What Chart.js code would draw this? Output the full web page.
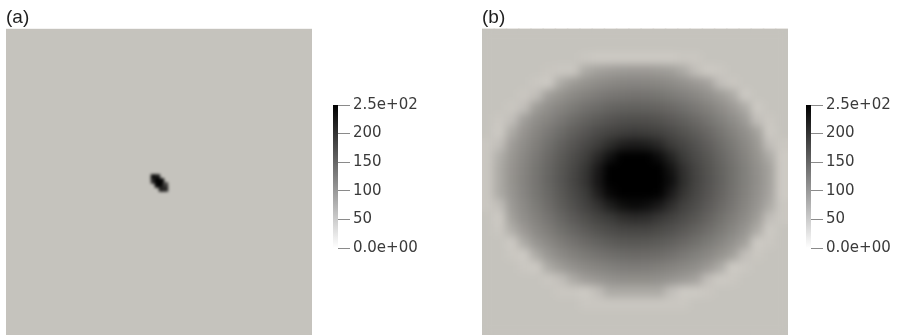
<!DOCTYPE html>
<html>
<head>
<meta charset="utf-8">
<script src="https://cdn.jsdelivr.net/npm/chart.js@4.4.1/dist/chart.umd.min.js"></script>
<style>
  html, body { margin: 0; padding: 0; background: #ffffff; }
  body { width: 905px; height: 335px; position: relative; overflow: hidden; }
  .box { position: absolute; }
</style>
</head>
<body>
<div class="box" style="left:0px;top:0px;width:312px;height:335px;"><canvas id="heatA"></canvas></div>
<div class="box" style="left:333px;top:93px;width:95px;height:167px;"><canvas id="cbarA"></canvas></div>
<div class="box" style="left:476px;top:0px;width:312px;height:335px;"><canvas id="heatB"></canvas></div>
<div class="box" style="left:806px;top:93px;width:95px;height:167px;"><canvas id="cbarB"></canvas></div>
<script>
// ---------------- data ----------------
const panelTitles = ['(a)', '(b)'];

// colour bar range and its tick labels
const colorbarMin = 0;
const colorbarMax = 250;
const colorbarTickValues = [0, 50, 100, 150, 200, 250];
const colorbarTickLabels = ['0.0e+00', '50', '100', '150', '200', '2.5e+02'];

// panel (a): uniform field with one small dark spot (coordinates in % of the panel)
const fieldALevel = 15;
const spotAX = [48.2, 49.5, 48.2, 49.5, 50.8, 49.5, 50.8, 52.1, 50.8, 52.1];
const spotAY = [48.4, 48.4, 49.7, 49.7, 49.7, 51.0, 51.0, 51.0, 52.3, 52.3];
const spotAV = [240, 220, 200, 255, 240, 240, 255, 170, 210, 200];
const spotACell = 1.31;

// panel (b): field sampled on a 25 x 25 grid, rows from top to bottom
const fieldBLevel = 15;
const fieldB = [
  [15,15,15,15,15,15,15,15,15,15,15,15,15,15,15,15,15,15,15,15,15,15,15,15,15],
  [15,15,15,15,15,15,15,15,15,15,15,15,15,15,15,15,15,15,15,15,15,15,15,15,15],
  [15,15,15,15,15,15,15,15,10,6,6,6,6,6,6,6,10,10,15,15,15,15,15,15,15],
  [15,15,15,15,15,12,10,10,45,56,61,65,66,66,63,58,45,20,6,10,15,15,15,15,15],
  [15,15,15,15,10,6,45,63,73,81,86,89,90,89,87,82,75,66,55,20,10,15,15,15,15],
  [15,15,15,10,20,59,73,84,93,101,107,110,112,111,108,102,95,87,76,63,45,6,15,15,15],
  [15,15,10,20,62,78,91,102,113,121,128,132,133,132,129,123,115,105,94,81,66,45,6,15,15],
  [15,10,20,59,78,92,106,119,131,140,148,153,155,154,150,142,133,122,110,96,81,64,20,10,15],
  [15,6,45,72,89,105,120,134,147,159,168,174,177,175,170,161,150,138,124,109,93,77,57,6,15],
  [10,20,61,81,98,115,132,147,162,176,195,211,217,213,200,179,165,151,136,119,103,86,67,20,10],
  [10,40,68,87,105,123,140,157,174,200,228,250,255,253,234,207,178,161,145,127,110,92,73,45,6],
  [10,45,72,91,109,127,145,163,184,218,251,255,255,255,255,226,192,168,150,132,114,96,77,56,6],
  [10,45,73,92,110,128,146,165,187,222,255,255,255,255,255,233,195,169,151,133,114,96,78,56,6],
  [10,45,70,90,108,125,143,161,178,211,241,255,255,255,249,218,186,165,148,130,112,94,76,54,6],
  [10,20,65,85,102,119,137,153,169,188,213,231,238,233,218,194,172,157,141,124,107,89,71,45,10],
  [15,6,57,78,94,110,126,141,155,168,178,191,197,194,182,170,158,145,130,114,98,82,62,20,10],
  [15,10,40,66,84,99,114,127,139,150,158,164,166,165,160,152,142,130,117,103,88,71,45,6,15],
  [15,15,6,45,70,85,99,111,122,131,138,143,144,143,139,133,124,114,102,89,74,57,6,10,15],
  [15,15,10,6,45,69,83,94,103,111,117,121,123,122,119,113,105,96,86,73,58,20,10,15,15],
  [15,15,15,10,6,45,63,75,84,91,96,100,101,100,97,92,86,78,66,45,6,10,15,15,15],
  [15,15,15,15,15,10,20,45,61,69,75,78,79,79,76,71,64,55,20,6,10,15,15,15,15],
  [15,15,15,15,15,15,10,10,6,20,45,45,45,45,45,20,6,6,10,15,15,15,15,15,15],
  [15,15,15,15,15,15,15,15,10,10,10,10,10,10,10,10,10,15,15,15,15,15,15,15,15],
  [15,15,15,15,15,15,15,15,15,15,15,15,15,15,15,15,15,15,15,15,15,15,15,15,15],
  [15,15,15,15,15,15,15,15,15,15,15,15,15,15,15,15,15,15,15,15,15,15,15,15,15]
];

// ---------------- styling helpers ----------------
const SHADE = [210, 207, 201];          // lit surface colour at value 0
function surfaceColor(v) {
  const t = Math.max(0, Math.min(1, 1 - v / colorbarMax));
  return 'rgb(' + SHADE.map(c => Math.round(c * t)).join(',') + ')';
}

const areaFill = {
  id: 'areaFill',
  beforeDatasetsDraw(chart, args, opts) {
    if (opts.level === undefined) return;
    const a = chart.chartArea, ctx = chart.ctx;
    ctx.save();
    ctx.fillStyle = surfaceColor(opts.level);
    ctx.fillRect(a.left, a.top, a.right - a.left, a.bottom - a.top);
    ctx.restore();
  }
};

const smooth = {
  id: 'smooth',
  afterDatasetsDraw(chart, args, opts) {
    const r = opts.radius;
    if (!r) return;
    const a = chart.chartArea;
    const w = Math.round(a.right - a.left), h = Math.round(a.bottom - a.top);
    const l = Math.round(a.left), t = Math.round(a.top);
    const off = document.createElement('canvas');
    off.width = w; off.height = h;
    off.getContext('2d').drawImage(chart.canvas, l, t, w, h, 0, 0, w, h);
    const ctx = chart.ctx;
    ctx.save();
    ctx.beginPath();
    ctx.rect(l, t, w, h);
    ctx.clip();
    ctx.filter = 'blur(' + r + 'px)';
    ctx.drawImage(off, l, t);
    ctx.restore();
  }
};

function heatChart(id, title, cells, cellUnits, blur, level) {
  return new Chart(document.getElementById(id), {
    type: 'scatter',
    data: {
      datasets: [{
        data: cells,
        pointStyle: 'rect',
        borderWidth: 0,
        pointBorderWidth: 0,
        backgroundColor: ctx => surfaceColor(ctx.raw ? ctx.raw.v : 0),
        pointBackgroundColor: ctx => surfaceColor(ctx.raw ? ctx.raw.v : 0),
        pointRadius: ctx => {
          const s = ctx.chart.scales.x;
          const side = Math.abs(s.getPixelForValue(cellUnits) - s.getPixelForValue(0)) + 1.5;
          return side / Math.SQRT2;
        },
        pointHoverRadius: 0
      }]
    },
    options: {
      responsive: true,
      maintainAspectRatio: false,
      animation: false,
      events: [],
      layout: { padding: { left: 6, right: 0, top: 0, bottom: 0 } },
      scales: {
        x: { type: 'linear', min: 0, max: 100, display: false },
        y: { type: 'linear', min: 0, max: 100, reverse: true, display: false }
      },
      plugins: {
        legend: { display: false },
        tooltip: { enabled: false },
        title: {
          display: true, text: title, align: 'start', color: '#1e1e1e',
          font: { family: 'Liberation Sans, Arial, sans-serif', size: 19, weight: 'normal' },
          padding: { top: 6, bottom: 0 }
        },
        areaFill: { level: level },
        smooth: { radius: blur }
      }
    },
    plugins: [areaFill, smooth]
  });
}

function colorbarChart(id) {
  return new Chart(document.getElementById(id), {
    type: 'bar',
    data: {
      labels: ['scale'],
      datasets: [{
        data: [[colorbarMin, colorbarMax]],
        barPercentage: 1,
        categoryPercentage: 1,
        borderWidth: 0,
        backgroundColor: ctx => {
          const c = ctx.chart, a = c.chartArea;
          if (!a) return '#888';
          const y = c.scales.y;
          const g = c.ctx.createLinearGradient(0, y.getPixelForValue(colorbarMin), 0, y.getPixelForValue(colorbarMax));
          g.addColorStop(0, '#ffffff');
          g.addColorStop(1, '#000000');
          return g;
        }
      }]
    },
    options: {
      responsive: true,
      maintainAspectRatio: false,
      animation: false,
      events: [],
      layout: { padding: { left: 0, right: 0, top: 10, bottom: 10 } },
      scales: {
        x: { display: false },
        y: {
          position: 'right',
          min: colorbarMin, max: colorbarMax,
          afterFit: s => { s.width = 90; },
          afterBuildTicks: s => { s.ticks = colorbarTickValues.map(v => ({ value: v })); },
          border: { display: false },
          grid: { display: true, drawOnChartArea: false, drawTicks: true, tickLength: 12, color: '#8a8a8a', lineWidth: 1 },
          ticks: {
            padding: 3,
            color: '#3a3a3a',
            font: { family: 'DejaVu Sans, sans-serif', size: 15 },
            callback: (val, i) => colorbarTickLabels[colorbarTickValues.indexOf(val)]
          }
        }
      },
      plugins: { legend: { display: false }, tooltip: { enabled: false }, title: { display: false } }
    }
  });
}

// ---------------- build cells from the data arrays ----------------
const cellsA = spotAV.map((v, k) => ({ x: spotAX[k], y: spotAY[k], v: v }));
const nB = fieldB.length;
const cellB = 100 / nB;
const cellsB = [];
fieldB.forEach((row, j) => row.forEach((v, i) => cellsB.push({ x: (i + 0.5) * cellB, y: (j + 0.5) * cellB, v: v })));

heatChart('heatA', panelTitles[0], cellsA, spotACell, 1.6, fieldALevel);
heatChart('heatB', panelTitles[1], cellsB, cellB, 4.5, fieldBLevel);
colorbarChart('cbarA');
colorbarChart('cbarB');
</script>
</body>
</html>
